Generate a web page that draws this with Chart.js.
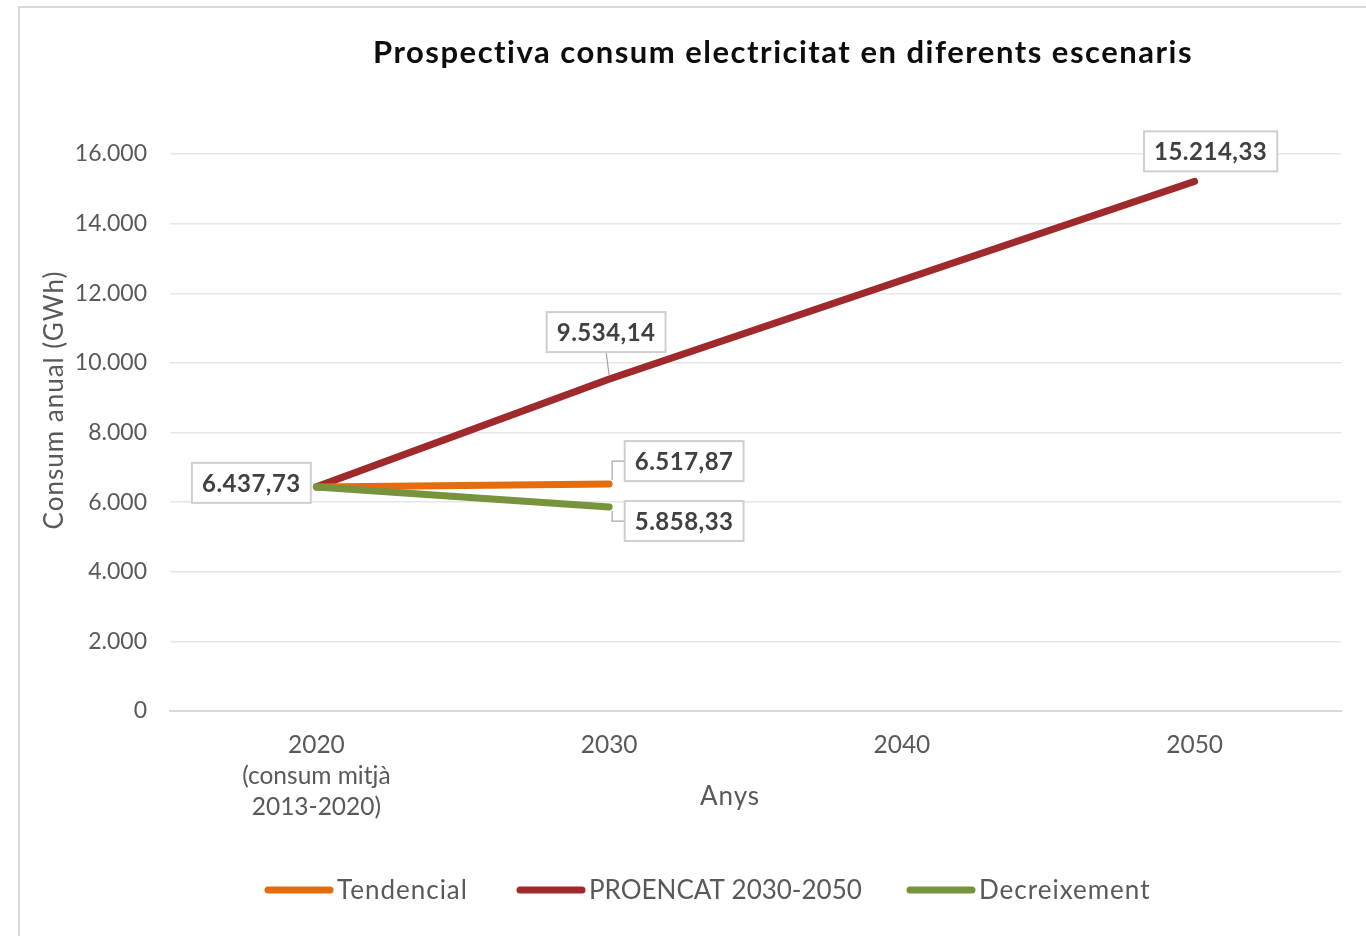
<!DOCTYPE html>
<html lang="ca">
<head>
  <meta charset="UTF-8" />
  <title>Prospectiva consum electricitat</title>
  <script src="https://cdn.jsdelivr.net/npm/chart.js"></script>
  <style>
    html, body { margin: 0; padding: 0; background: #fff; overflow: hidden; }
    #frame { position: absolute; left: 18px; top: 6px; width: 1400px; height: 1000px; border: 2px solid #d9d9d9; box-sizing: border-box; }
    #wrap { position: absolute; left: 0; top: 0; width: 1366px; height: 936px; }
  </style>
</head>
<body>
  <div id="frame"></div>
  <div id="wrap"><canvas id="chart"></canvas></div>

  <script>
    // dades
    const categories = [["2020", "(consum mitjà", "2013-2020)"], "2030", "2040", "2050"];
    const seriesNames = ["Tendencial", "PROENCAT 2030-2050", "Decreixement"];
    const tendencial = [6437.73, 6517.87, null, null];
    const proencat = [6437.73, 9534.14, null, 15214.33];
    const decreixement = [6437.73, 5858.33, null, null];
    const yTicks = [0, 2000, 4000, 6000, 8000, 10000, 12000, 14000, 16000];

    const colors = ["#E46C0A", "#A0292B", "#77933C"];
    const FONT = "Lato, 'Open Sans', sans-serif";

    // número amb punt de milers i coma decimal
    function fmt(v, dec) {
      const parts = v.toFixed(dec).split(".");
      const ent = parts[0].replace(/\B(?=(\d{3})+(?!\d))/g, ".");
      return parts[1] ? ent + "," + parts[1] : ent;
    }

    // on va cada etiqueta respecte del punt (centre de la caixa)
    const labelPlacement = [
      { ds: 0, i: 1, dx: 75, dy: -23, leader: "elbow" },
      { ds: 1, i: 0, dx: -65, dy: -4, leader: null },
      { ds: 1, i: 1, dx: -3, dy: -47, leader: "straight" },
      { ds: 1, i: 3, dx: 16, dy: -30, leader: null },
      { ds: 2, i: 1, dx: 75, dy: 14, leader: "elbow" }
    ];

    const decor = {
      id: "decor",
      afterDatasetsDraw(chart) {
        const ctx = chart.ctx;
        ctx.save();

        // etiquetes de dades
        ctx.font = "bold 24px " + FONT;
        ctx.letterSpacing = "0.5px";
        ctx.textAlign = "center";
        ctx.textBaseline = "middle";
        labelPlacement.forEach(p => {
          const pt = chart.getDatasetMeta(p.ds).data[p.i];
          const val = chart.data.datasets[p.ds].data[p.i];
          const txt = fmt(val, 2);
          const cx = pt.x + p.dx, cy = pt.y + p.dy;
          const w = ctx.measureText(txt).width + 20, h = 40;
          const left = cx - w / 2, top = cy - h / 2;

          ctx.strokeStyle = "#a6a6a6";
          ctx.lineWidth = 1.2;
          if (p.leader === "straight") {
            ctx.beginPath();
            ctx.moveTo(cx, top + h);
            ctx.lineTo(pt.x, pt.y - 4);
            ctx.stroke();
          } else if (p.leader === "elbow") {
            ctx.beginPath();
            ctx.moveTo(pt.x + 3, pt.y + (p.dy < 0 ? -4 : 4));
            ctx.lineTo(pt.x + 3, cy);
            ctx.lineTo(left, cy);
            ctx.stroke();
          }

          ctx.fillStyle = "#fff";
          ctx.fillRect(left, top, w, h);
          ctx.strokeStyle = "#cfcfcf";
          ctx.lineWidth = 2;
          ctx.strokeRect(left, top, w, h);
          ctx.fillStyle = "#404040";
          ctx.fillText(txt, cx, cy + 1);
        });
        ctx.restore();
      },
      afterDraw(chart) {
        const ctx = chart.ctx;
        ctx.save();
        ctx.textBaseline = "middle";

        // títol
        ctx.fillStyle = "#0d0d0d";
        ctx.font = "bold 31px " + FONT;
        ctx.letterSpacing = "1.5px";
        ctx.textAlign = "center";
        ctx.fillText("Prospectiva consum electricitat en diferents escenaris", 783, 53);

        // títols dels eixos
        ctx.fillStyle = "#595959";
        ctx.font = "26px " + FONT;
        ctx.letterSpacing = "1px";
        ctx.fillText("Anys", 730, 797);
        ctx.save();
        ctx.translate(55, 400);
        ctx.rotate(-Math.PI / 2);
        ctx.fillText("Consum anual (GWh)", 0, 0);
        ctx.restore();

        // llegenda
        ctx.font = "26px " + FONT;
        ctx.textAlign = "left";
        const starts = [265, 517, 907];
        chart.data.datasets.forEach((ds, k) => {
          const x = starts[k], y = 890;
          ctx.strokeStyle = ds.borderColor;
          ctx.lineWidth = 7;
          ctx.lineCap = "round";
          ctx.beginPath();
          ctx.moveTo(x + 3, y);
          ctx.lineTo(x + 65, y);
          ctx.stroke();
          ctx.fillStyle = "#595959";
          ctx.letterSpacing = k === 1 ? "0px" : "1px";
          ctx.fillText(ds.label, x + 72, y + 1);
        });
        ctx.restore();
      }
    };

    const lineStyle = { borderWidth: 7, pointRadius: 0, pointHoverRadius: 0, borderCapStyle: "round", borderJoinStyle: "round", tension: 0, fill: false, spanGaps: true };

    new Chart(document.getElementById("chart").getContext("2d"), {
      type: "line",
      data: {
        labels: categories,
        datasets: [
          Object.assign({ label: seriesNames[0], data: tendencial, borderColor: colors[0], backgroundColor: colors[0], order: 1 }, lineStyle),
          Object.assign({ label: seriesNames[1], data: proencat, borderColor: colors[1], backgroundColor: colors[1], order: 2 }, lineStyle),
          Object.assign({ label: seriesNames[2], data: decreixement, borderColor: colors[2], backgroundColor: colors[2], order: 0 }, lineStyle)
        ]
      },
      options: {
        responsive: true,
        maintainAspectRatio: false,
        animation: false,
        events: [],
        layout: { padding: { left: 0, right: 25, top: 154, bottom: 0 } },
        plugins: {
          legend: { display: false },
          title: { display: false },
          tooltip: { enabled: false }
        },
        scales: {
          x: {
            offset: true,
            grid: { display: false, drawTicks: false },
            border: { display: true, color: "#d9d9d9", width: 2 },
            ticks: { color: "#595959", font: { family: FONT, size: 24.5, lineHeight: 1.28 }, padding: 18, maxRotation: 0, autoSkip: false },
            afterFit: s => { s.height = 225; }
          },
          y: {
            min: 0,
            max: 16000,
            afterBuildTicks: s => { s.ticks = yTicks.map(v => ({ value: v })); },
            grid: { color: "#e6e6e6", lineWidth: 1.5, drawTicks: false },
            border: { display: false },
            ticks: { color: "#595959", font: { family: FONT, size: 23 }, padding: 23, callback: v => fmt(v, 0) },
            afterFit: s => { s.width = 170; }
          }
        }
      },
      plugins: [decor]
    });
  </script>
</body>
</html>
